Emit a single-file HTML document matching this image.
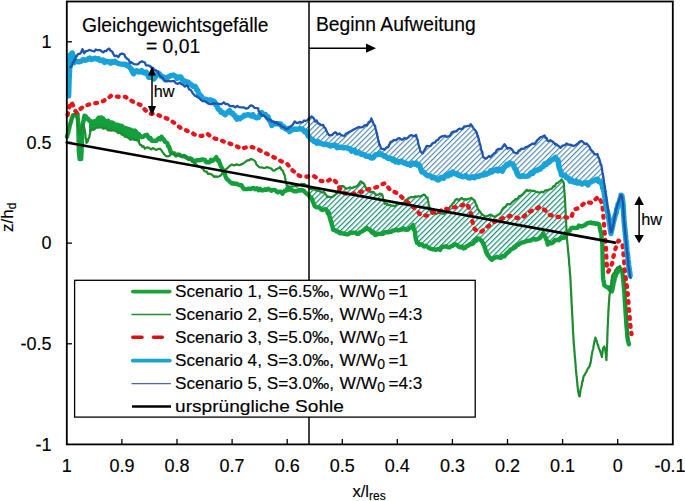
<!DOCTYPE html>
<html><head><meta charset="utf-8">
<style>
html,body{margin:0;padding:0;background:#fff;}
svg{display:block;}
text{font-family:"Liberation Sans",sans-serif;fill:#000;stroke:#000;stroke-width:0.15px;}
</style></head>
<body>
<svg width="685" height="501" viewBox="0 0 685 501">
<defs>
<pattern id="hb" patternUnits="userSpaceOnUse" width="3.7" height="3.7" patternTransform="rotate(45)">
<line x1="0.6" y1="-1" x2="0.6" y2="5" stroke="#4f88a8" stroke-width="1.15"/>
</pattern>
<pattern id="hg" patternUnits="userSpaceOnUse" width="3.7" height="3.7" patternTransform="rotate(45)">
<line x1="0.6" y1="-1" x2="0.6" y2="5" stroke="#1f9078" stroke-width="1.3"/>
</pattern>
</defs>
<rect x="0" y="0" width="685" height="501" fill="#fff"/>

<!-- CURVES -->
<g id="curves" fill="none" stroke-linejoin="round" stroke-linecap="round">
<path d="M299.0,122.8 L302.6,121.6 L307.0,119.4 L311.6,116.9 L315.2,120.5 L319.6,123.5 L323.2,125.7 L326.2,130.0 L329.1,135.1 L332.0,134.4 L335.7,133.0 L339.3,134.4 L343.0,135.9 L347.3,133.0 L351.7,130.8 L355.4,128.6 L360.5,126.4 L364.9,125.7 L368.5,123.5 L371.4,119.1 L373.6,122.7 L376.5,131.5 L378.7,141.7 L380.9,147.6 L384.6,149.7 L388.2,146.8 L390.4,141.7 L394.0,140.3 L397.7,138.8 L401.4,138.8 L404.4,138.7 L408.0,137.2 L411.7,135.0 L416.1,135.8 L418.2,142.3 L420.4,151.1 L422.6,152.6 L424.8,149.6 L427.0,145.3 L430.7,145.3 L435.0,141.6 L439.4,138.7 L443.8,135.8 L448.2,137.2 L451.8,132.8 L456.2,131.4 L459.9,129.2 L464.2,127.0 L467.9,125.5 L470.8,124.1 L473.0,127.0 L475.9,130.7 L478.8,139.4 L481.0,148.2 L483.2,156.2 L486.1,158.4 L490.5,156.2 L494.2,154.0 L497.9,149.4 L501.6,148.0 L504.5,145.0 L507.4,148.0 L511.1,149.4 L514.0,151.6 L517.6,152.3 L521.3,149.4 L525.7,147.2 L530.0,145.0 L534.4,143.6 L537.3,139.2 L540.3,137.0 L544.6,136.3 L547.6,139.9 L550.5,140.7 L553.4,141.4 L556.3,145.0 L559.2,147.2 L562.2,146.5 L566.5,143.6 L570.9,145.0 L575.3,145.0 L579.7,141.4 L584.0,142.1 L587.9,145.3 L590.8,149.7 L593.8,153.4 L597.4,154.8 L599.6,159.2 L601.1,165.0 L602.5,172.3 L604.0,181.1 L603.2,188.4 L601.8,184.0 L599.6,181.8 L596.7,178.2 L593.8,179.6 L589.4,182.6 L588.0,184.0 L582.0,183.0 L576.0,182.0 L570.0,180.0 L565.1,175.7 L561.4,174.2 L559.2,168.4 L557.8,159.6 L555.6,158.2 L551.9,160.4 L547.6,162.6 L543.2,165.5 L538.8,169.1 L534.4,171.3 L530.0,174.2 L525.7,175.7 L520.5,177.2 L517.6,175.7 L515.4,168.4 L513.2,164.7 L509.6,163.3 L505.2,165.5 L502.3,171.3 L499.4,169.9 L496.4,169.9 L492.0,171.4 L487.6,172.8 L483.2,175.0 L478.8,175.8 L474.5,177.5 L470.1,177.2 L465.7,176.5 L461.3,175.8 L456.9,174.3 L452.6,172.8 L448.2,175.0 L443.8,177.2 L439.4,179.4 L435.0,178.0 L430.7,176.5 L426.3,175.0 L421.9,171.0 L419.0,165.8 L414.6,163.5 L408.8,164.5 L404.4,162.8 L400.0,161.5 L397.0,161.4 L392.6,160.0 L388.2,157.8 L383.8,155.6 L379.5,153.4 L376.5,154.9 L372.2,157.8 L367.8,156.3 L363.4,154.1 L359.0,153.4 L354.6,151.2 L350.3,149.7 L345.9,148.3 L341.5,147.6 L337.1,146.8 L332.7,145.4 L328.4,144.6 L324.0,143.9 L319.6,143.2 L315.2,141.7 L310.1,137.3 L305.0,131.0 L302.6,129.6 L299.0,128.5 Z" fill="url(#hb)" stroke="none"/>
<path d="M309.0,187.3 L309.8,187.9 L314.6,189.5 L319.4,191.1 L324.1,191.9 L327.3,196.7 L332.1,197.5 L336.9,194.3 L340.1,185.5 L343.3,186.3 L348.1,188.7 L352.9,187.1 L357.7,185.5 L360.8,181.5 L364.0,183.9 L367.2,190.3 L372.0,191.9 L376.8,194.3 L381.6,193.5 L384.8,203.1 L388.0,205.5 L392.8,206.3 L394.8,205.9 L399.6,204.3 L404.4,201.9 L407.6,198.7 L410.7,197.1 L415.5,196.3 L420.3,196.3 L424.3,194.7 L427.5,197.9 L429.1,205.1 L430.7,211.5 L434.7,213.1 L439.5,213.9 L444.3,214.7 L447.4,211.5 L450.6,205.1 L453.8,201.9 L457.0,199.5 L461.8,198.7 L466.6,199.5 L471.4,198.7 L474.6,199.5 L477.0,206.7 L481.0,213.9 L485.0,215.9 L491.0,214.9 L495.0,215.9 L499.0,214.9 L503.0,208.9 L507.0,204.9 L512.9,201.9 L517.9,197.9 L522.9,193.9 L526.9,190.0 L532.9,191.0 L538.9,193.0 L544.9,191.0 L550.8,189.0 L554.8,186.0 L558.8,181.0 L561.8,180.0 L563.8,183.0 L565.0,200.0 L566.0,220.0 L565.4,235.8 L562.8,238.4 L558.8,239.7 L554.9,241.0 L551.0,242.3 L547.7,243.7 L545.7,237.1 L543.1,233.8 L539.1,238.4 L533.9,239.7 L528.6,241.0 L523.4,242.3 L518.1,245.0 L514.2,247.6 L510.2,250.2 L506.3,254.8 L502.3,256.8 L497.1,257.5 L491.8,258.8 L487.9,256.1 L485.3,248.9 L483.0,243.0 L480.9,239.5 L477.4,238.4 L472.8,243.6 L468.1,245.4 L463.4,247.7 L458.7,246.0 L454.1,244.2 L449.4,247.1 L444.7,246.5 L440.0,248.9 L434.2,248.9 L428.4,247.7 L422.5,245.4 L417.9,243.6 L416.1,240.7 L414.9,232.5 L413.2,225.5 L409.7,227.9 L408.0,228.5 L402.0,229.0 L396.0,230.0 L390.0,231.0 L383.0,233.0 L378.4,234.5 L375.0,234.0 L370.0,230.0 L366.7,227.5 L362.0,232.0 L357.0,234.0 L352.0,233.0 L346.0,233.5 L340.0,233.0 L336.0,232.0 L333.0,229.0 L331.0,222.0 L329.0,214.0 L325.7,210.0 L319.4,207.9 L314.6,206.3 L311.4,198.3 L309.0,195.0 Z" fill="url(#hg)" stroke="none"/>
<path d="M89.0,120.2 L91.5,122.7 L95.0,121.5 L99.7,117.0 L101.7,118.0 L106.7,121.0 L111.4,123.0 L115.2,124.2 L120.7,126.5 L125.4,128.5 L130.4,129.7 L134.8,130.5 L137.5,133.0 L140.0,136.5 L140.0,143.9 L138.0,141.0 L134.0,140.0 L130.4,139.5 L125.0,136.5 L120.0,133.5 L115.2,131.0 L110.0,130.5 L106.0,129.0 L101.7,127.4 L96.0,128.5 L93.0,129.5 L91.5,129.0 L90.0,133.0 L89.0,137.0 Z" fill="#13a03c" stroke="none"/>
<path d="M67.0,136.7 L67.4,135.1 L67.8,133.8 L68.2,133.0 L68.6,130.5 L69.0,129.0 L69.4,127.6 L69.8,125.1 L70.2,124.2 L70.6,122.9 L71.0,121.6 L71.7,118.4 L72.3,117.2 L73.0,115.1 L75.2,115.2 L77.5,113.8 L77.6,114.0 L77.7,117.8 L77.8,119.4 L78.0,120.4 L78.1,121.9 L78.2,122.6 L78.3,123.9 L78.3,126.7 L78.4,127.2 L78.4,129.1 L78.4,130.8 L78.5,131.9 L78.5,134.5 L78.5,136.0 L78.6,138.5 L78.6,139.4 L78.6,141.2 L78.7,142.5 L78.7,144.5 L78.7,145.6 L78.8,146.8 L78.8,150.0 L78.9,151.6 L79.0,152.8 L79.1,154.1 L79.3,154.8 L79.4,156.2 L79.5,158.0 L79.6,159.1 L81.2,159.1 L81.3,156.7 L81.3,156.1 L81.4,153.5 L81.5,153.1 L81.6,151.3 L81.6,147.8 L81.7,146.7 L81.8,146.6 L81.9,144.0 L81.9,143.6 L82.0,140.7 L82.1,138.4 L82.2,138.0 L82.2,136.7 L82.3,134.0 L82.4,132.0 L82.5,131.0 L82.6,130.8 L82.6,128.7 L82.7,125.7 L82.8,124.4 L83.1,122.6 L83.4,120.9 L83.7,121.0 L83.9,118.1 L84.2,117.4 L84.5,115.6 L85.7,116.2 L86.8,118.5 L88.0,118.4 L89.2,120.7 L90.3,120.7 L91.5,122.5 L93.2,121.5 L95.0,121.0 L96.2,121.4 L97.3,119.9 L98.5,117.7 L99.7,117.8 L101.7,117.4 L103.4,118.8 L105.0,120.8 L106.7,121.3 L108.3,120.8 L109.8,123.4 L111.4,122.4 L113.3,123.1 L115.2,124.8 L117.0,124.6 L118.9,125.3 L120.7,125.6 L122.3,126.3 L123.8,128.0 L125.4,127.9 L127.1,129.1 L128.7,129.0 L130.4,129.6 L132.6,131.1 L134.8,130.5 L136.2,131.9 L137.5,133.8 L138.8,134.1 L140.0,135.7 L141.6,137.2 L143.2,136.9 L144.8,135.4 L147.0,134.8 L148.2,137.1 L149.3,138.6 L150.5,138.0 L151.7,140.7 L153.3,140.9 L154.8,140.7 L156.4,140.7 L157.7,139.2 L159.0,138.1 L160.3,139.3 L161.6,136.8 L162.7,139.0 L163.7,139.2 L164.8,141.6 L165.8,142.3 L166.9,142.7 L167.6,143.9 L168.2,146.5 L168.9,146.5 L169.5,148.2 L170.2,150.3 L170.8,152.4 L172.6,153.1 L174.4,153.5 L176.0,155.5 L177.6,154.5 L179.2,154.6 L180.8,155.6 L182.4,156.4 L184.0,156.0 L185.6,156.9 L187.1,157.8 L188.7,158.9 L190.3,158.3 L191.9,159.2 L193.5,160.8 L195.1,161.0 L196.7,160.2 L198.3,160.3 L199.9,160.3 L201.5,159.5 L203.1,159.5 L204.7,159.8 L206.3,162.2 L207.9,162.1 L209.5,162.3 L211.1,159.8 L212.7,160.8 L213.9,159.5 L215.1,159.0 L216.3,157.1 L217.5,160.4 L218.7,160.2 L219.5,162.8 L220.3,164.8 L221.1,166.8 L221.9,168.0 L222.7,169.5 L223.5,171.3 L224.1,173.1 L224.7,173.4 L225.3,175.6 L225.9,177.6 L227.1,179.3 L228.3,180.1 L230.1,182.1 L231.9,183.5 L233.5,183.3 L235.0,183.8 L236.6,183.6 L238.3,184.7 L240.0,185.3 L241.4,185.1 L242.7,187.3 L244.1,189.1 L245.7,189.1 L247.3,189.0 L248.9,188.6 L250.5,189.1 L252.1,188.4 L253.7,187.9 L255.3,189.3 L256.9,188.2 L258.5,190.2 L260.1,188.8 L261.7,190.4 L263.3,190.4 L264.9,189.3 L266.5,189.8 L268.1,188.8 L269.7,189.6 L271.3,190.8 L272.9,189.9 L274.5,189.9 L276.1,191.0 L277.7,192.4 L279.3,191.6 L280.8,191.8 L282.4,193.7 L283.6,192.2 L284.8,190.7 L286.0,190.7 L287.2,188.4 L288.8,189.7 L290.4,189.2 L292.0,190.2 L293.6,191.1 L295.2,191.3 L296.8,191.2 L298.4,190.1 L300.0,190.6 L301.6,190.0 L303.2,190.4 L304.8,192.0 L306.4,193.5 L308.0,194.4 L309.1,195.6 L310.3,197.7 L311.4,197.8 L312.0,199.2 L312.7,201.4 L313.3,202.6 L314.0,204.1 L314.6,206.1 L316.2,207.1 L317.8,207.4 L319.4,207.5 L321.0,209.2 L322.5,210.0 L324.1,209.4 L325.7,209.1 L326.8,210.3 L327.9,213.5 L329.0,213.0 L329.4,216.1 L329.8,217.4 L330.2,218.4 L330.6,221.0 L331.0,220.9 L331.5,222.9 L332.0,225.4 L332.5,226.2 L333.0,229.7 L334.5,229.9 L336.0,231.2 L338.0,231.5 L340.0,233.3 L341.5,233.0 L343.0,233.5 L344.5,233.7 L346.0,234.2 L347.5,234.4 L349.0,233.7 L350.5,232.5 L352.0,232.9 L353.7,232.6 L355.3,232.6 L357.0,233.9 L358.7,233.8 L360.3,232.0 L362.0,231.5 L363.2,230.5 L364.4,230.2 L365.5,228.7 L366.7,227.8 L368.4,229.3 L370.0,229.8 L371.2,231.6 L372.5,232.9 L373.8,232.1 L375.0,235.0 L376.7,234.7 L378.4,233.7 L379.9,233.9 L381.5,233.8 L383.0,233.9 L384.8,232.2 L386.5,232.2 L388.2,232.3 L390.0,231.7 L391.5,231.7 L393.0,230.4 L394.5,230.6 L396.0,229.4 L397.5,230.2 L399.0,230.2 L400.5,229.6 L402.0,229.5 L403.5,228.2 L405.0,229.6 L406.5,229.7 L408.0,229.6 L409.7,228.0 L411.4,227.3 L413.2,225.1 L413.6,228.2 L414.0,229.8 L414.5,230.4 L414.9,231.6 L415.1,234.0 L415.4,235.9 L415.6,238.0 L415.9,239.0 L416.1,239.7 L417.0,242.8 L417.9,242.6 L419.4,244.9 L421.0,244.1 L422.5,245.0 L424.0,246.6 L425.4,245.8 L426.9,246.4 L428.4,247.7 L430.3,248.6 L432.3,249.2 L434.2,249.3 L436.1,249.9 L438.1,248.9 L440.0,249.9 L441.6,247.2 L443.1,246.7 L444.7,246.6 L446.3,246.2 L447.8,247.4 L449.4,247.4 L451.0,246.2 L452.5,245.9 L454.1,244.3 L455.6,244.4 L457.2,245.1 L458.7,246.8 L460.3,247.4 L461.8,246.5 L463.4,248.5 L465.0,248.0 L466.5,246.2 L468.1,245.6 L469.7,244.1 L471.2,244.3 L472.8,243.6 L473.9,242.5 L475.1,240.0 L476.2,240.7 L477.4,238.4 L479.1,238.7 L480.9,240.2 L481.9,241.4 L483.0,243.0 L483.6,244.9 L484.1,245.0 L484.7,247.5 L485.3,248.7 L485.8,251.3 L486.3,252.7 L486.9,252.7 L487.4,254.6 L487.9,255.3 L489.2,256.9 L490.5,258.6 L491.8,259.7 L493.6,258.3 L495.3,257.5 L497.1,256.8 L498.8,257.5 L500.6,258.0 L502.3,256.0 L504.3,256.4 L506.3,253.8 L507.3,253.0 L508.2,251.9 L509.2,251.8 L510.2,249.8 L511.5,249.0 L512.9,248.7 L514.2,246.7 L515.5,247.2 L516.8,245.0 L518.1,245.0 L519.9,243.6 L521.6,242.5 L523.4,242.4 L525.1,241.7 L526.9,241.2 L528.6,240.8 L530.4,240.6 L532.1,239.4 L533.9,239.0 L535.6,239.6 L537.4,239.1 L539.1,238.5 L540.1,238.0 L541.1,236.3 L542.1,235.7 L543.1,233.2 L544.4,236.0 L545.7,237.8 L546.2,239.6 L546.7,240.0 L547.2,241.6 L547.7,244.6 L549.4,242.4 L551.0,243.4 L553.0,242.5 L554.9,240.2 L556.8,239.8 L558.8,240.2 L560.8,238.5 L562.8,237.5 L564.1,237.8 L565.4,235.6 L566.5,235.0 L567.7,232.0 L568.9,231.2 L570.0,230.3 L571.5,228.1 L573.0,227.7 L574.5,228.1 L576.0,227.8 L577.5,227.7 L579.0,225.6 L580.5,226.2 L582.0,226.5 L583.5,225.4 L585.0,225.3 L586.5,223.7 L588.0,223.0 L589.5,222.8 L591.0,222.4 L592.5,223.3 L594.0,222.9 L595.7,223.7 L597.3,223.5 L599.0,224.2 L599.5,226.0 L600.0,229.1 L600.5,231.2 L601.0,232.8 L601.2,232.7 L601.4,234.3 L601.6,238.0 L601.7,238.6 L601.9,241.0 L602.1,241.7 L602.3,243.7 L602.3,245.3 L602.4,246.7 L602.4,248.5 L602.4,248.8 L602.5,251.8 L602.5,253.6 L602.5,253.7 L602.6,255.8 L602.6,257.9 L602.6,258.7 L602.6,259.7 L602.7,261.2 L602.7,263.4 L602.7,263.9 L602.8,267.3 L602.8,268.6 L602.8,269.9 L602.9,271.8 L602.9,272.8 L602.9,273.8 L603.0,275.7 L603.0,277.0 L603.3,279.6 L603.5,280.8 L603.8,281.1 L604.0,284.1 L604.3,285.2 L605.6,286.2 L606.9,287.1 L608.2,287.1 L609.5,289.4 L610.7,290.6 L612.0,291.4 L612.3,290.0 L612.6,288.4 L613.0,286.1 L613.3,285.2 L613.7,282.3 L614.1,281.4 L614.5,280.2 L614.8,277.7 L615.2,277.0 L615.6,276.1 L616.0,274.6 L616.8,272.4 L617.5,272.7 L618.3,270.8 L619.0,268.7 L619.8,268.2 L620.7,269.3 L621.5,270.5 L622.4,271.5 L622.6,274.4 L622.7,275.3 L622.9,277.0 L623.0,278.8 L623.2,280.9 L623.4,280.4 L623.5,283.3 L623.7,285.2 L623.8,285.7 L623.9,287.5 L624.0,288.2 L624.1,290.1 L624.2,292.0 L624.4,292.9 L624.5,294.7 L624.6,297.7 L624.7,298.4 L624.8,299.8 L624.9,302.3 L625.0,302.9 L625.1,305.5 L625.2,306.3 L625.3,308.3 L625.4,308.3 L625.5,311.0 L625.6,313.0 L625.7,313.0 L625.8,316.5 L625.9,316.5 L626.0,318.7 L626.1,319.7 L626.2,322.0 L626.3,323.8 L626.4,324.2 L626.6,327.7 L626.7,328.0 L626.8,329.8 L627.0,331.5 L627.1,332.5 L627.2,333.9 L627.3,336.3 L627.5,337.6 L627.6,338.5 L628.0,341.2 L628.5,342.1 L628.9,344.3" stroke="#13a03c" stroke-width="4.4"/>
<path d="M67.6,132.0 L68.1,130.3 L68.6,129.1 L69.0,127.5 L69.5,124.9 L70.0,123.0 L70.5,122.2 L71.0,120.5 L71.5,120.1 L72.0,118.4 L73.0,116.2 L74.0,114.1 L75.5,113.3 L76.0,114.0 L76.5,116.2 L77.0,117.3 L77.2,120.5 L77.3,120.5 L77.5,123.6 L77.7,123.8 L77.8,126.7 L78.0,127.7 L78.5,129.6 L79.0,132.2 L79.5,132.3 L80.0,134.1 L80.3,134.3 L80.7,132.0 L81.0,129.7 L81.3,130.0 L81.7,128.4 L82.0,125.2 L83.5,123.8 L83.8,124.9 L84.1,126.8 L84.4,129.0 L84.7,129.7 L85.0,132.4 L85.2,132.7 L85.4,134.5 L85.6,137.3 L85.9,138.1 L86.1,139.7 L86.3,141.6 L86.5,143.0 L88.0,140.8 L88.4,138.5 L88.8,138.3 L89.2,137.1 L89.6,135.6 L90.0,133.3 L90.8,130.7 L91.5,128.7 L93.0,129.9 L94.5,129.3 L96.0,127.7 L97.9,127.6 L99.8,127.5 L101.7,127.4 L103.1,128.6 L104.6,128.5 L106.0,128.1 L108.0,130.4 L110.0,130.4 L111.7,130.7 L113.5,130.3 L115.2,130.9 L116.8,131.6 L118.4,133.2 L120.0,132.7 L121.7,134.6 L123.3,134.9 L125.0,136.9 L126.3,136.3 L127.7,137.6 L129.1,138.4 L130.4,139.8 L132.2,138.9 L134.0,139.9 L136.0,139.9 L138.0,140.6 L139.0,142.4 L140.0,144.8 L141.2,144.9 L142.4,146.8 L143.6,146.2 L144.8,148.7 L146.4,147.6 L148.0,147.3 L149.6,148.4 L151.2,149.3 L152.8,148.0 L154.4,149.0 L156.3,149.9 L158.1,149.0 L160.0,148.7 L161.2,150.0 L162.4,151.9 L164.2,154.2 L166.0,156.1 L167.8,156.4 L169.6,155.7 L171.4,153.9 L173.2,153.6 L174.8,154.9 L176.4,155.4 L178.0,155.4 L179.5,154.9 L181.0,155.8 L182.5,156.0 L184.0,156.6 L185.6,156.6 L187.1,158.8 L188.7,159.5 L189.9,158.9 L191.1,160.1 L192.3,162.1 L193.5,161.9 L194.7,164.1 L195.9,164.1 L197.1,165.4 L198.3,166.3 L199.9,166.5 L201.5,167.9 L203.1,169.0 L204.3,170.8 L205.5,171.7 L206.7,171.5 L207.9,173.9 L209.5,173.7 L211.1,174.2 L212.7,175.4 L214.3,176.9 L215.9,176.4 L217.5,176.9 L219.3,176.3 L221.1,175.2 L222.0,173.6 L222.9,171.7 L223.8,170.9 L224.7,170.3 L226.5,168.9 L228.3,167.3 L230.1,165.6 L231.9,164.4 L233.5,165.4 L235.0,165.2 L236.6,164.3 L238.3,165.1 L240.0,164.9 L242.6,163.9 L244.1,162.9 L245.7,161.7 L247.3,160.4 L248.9,160.4 L250.5,159.1 L252.5,159.3 L254.5,160.6 L255.5,161.9 L256.5,164.6 L257.5,165.5 L258.5,166.6 L260.1,167.5 L261.7,167.3 L263.3,167.9 L264.9,168.0 L266.5,167.1 L268.1,167.3 L269.7,168.2 L271.3,168.5 L272.9,170.5 L274.5,170.6 L276.1,169.3 L277.7,168.5 L278.9,168.1 L280.0,167.0 L280.8,168.2 L281.6,170.0 L282.4,170.2 L283.0,171.0 L283.6,173.3 L284.2,174.6 L284.8,175.5 L285.1,178.0 L285.3,178.9 L285.6,180.3 L286.1,182.3 L286.7,185.4 L287.2,185.4 L288.8,186.5 L290.4,186.8 L292.0,186.3 L293.6,186.5 L295.2,185.8 L296.8,186.7 L298.4,185.3 L300.0,185.2 L301.6,183.9 L303.2,184.2 L304.8,184.2 L306.1,185.7 L307.3,185.4 L308.6,186.8 L309.8,188.6 L311.4,189.1 L313.0,188.4 L314.6,189.6 L316.2,190.6 L317.8,190.4 L319.4,191.4 L321.0,191.7 L322.5,192.6 L324.1,192.0 L325.2,193.9 L326.2,194.8 L327.3,197.2 L328.9,196.6 L330.5,197.2 L332.1,197.2 L333.7,196.0 L335.3,194.6 L336.9,193.8 L337.4,192.9 L338.0,190.9 L338.5,189.0 L339.0,189.0 L339.6,186.5 L340.1,186.4 L341.7,186.1 L343.3,186.1 L344.9,187.8 L346.5,188.7 L348.1,188.3 L349.7,187.4 L351.3,187.9 L352.9,187.8 L354.5,186.8 L356.1,186.6 L357.7,185.3 L358.7,184.4 L359.8,182.4 L360.8,181.3 L362.4,182.5 L364.0,183.7 L364.8,185.3 L365.6,187.7 L366.4,188.0 L367.2,189.7 L368.8,190.3 L370.4,192.3 L372.0,191.9 L373.6,191.8 L375.2,194.2 L376.8,195.0 L378.4,194.7 L380.0,193.5 L381.6,194.0 L382.1,194.7 L382.7,196.0 L383.2,199.0 L383.7,200.6 L384.3,200.9 L384.8,203.9 L386.4,203.3 L388.0,205.1 L389.6,204.8 L391.2,205.4 L392.8,205.6 L394.8,206.3 L396.4,205.0 L398.0,204.2 L399.6,203.7 L401.2,203.1 L402.8,203.4 L404.4,202.1 L405.5,200.0 L406.5,200.1 L407.6,198.8 L409.1,197.8 L410.7,197.2 L412.3,197.1 L413.9,197.2 L415.5,196.3 L417.1,196.6 L418.7,196.2 L420.3,196.6 L422.3,195.3 L424.3,194.5 L425.4,195.8 L426.4,197.3 L427.5,197.5 L427.9,200.5 L428.3,201.5 L428.7,204.0 L429.1,205.5 L429.5,207.6 L429.9,208.7 L430.3,209.8 L430.7,211.3 L432.7,212.5 L434.7,213.6 L436.3,214.0 L437.9,212.9 L439.5,213.0 L441.1,213.4 L442.7,213.6 L444.3,213.8 L445.9,212.1 L447.4,211.0 L448.2,209.1 L449.0,208.7 L449.8,206.9 L450.6,206.0 L451.7,205.0 L452.7,203.5 L453.8,202.8 L455.4,199.8 L457.0,199.0 L458.6,200.1 L460.2,198.9 L461.8,198.1 L463.4,199.5 L465.0,199.1 L466.6,199.6 L468.2,198.9 L469.8,198.5 L471.4,197.9 L473.0,199.3 L474.6,200.4 L475.1,201.9 L475.6,202.9 L476.0,204.7 L476.5,205.0 L477.0,206.3 L477.8,209.0 L478.6,209.8 L479.4,211.4 L480.2,211.5 L481.0,213.4 L483.0,214.9 L485.0,216.4 L486.5,216.3 L488.0,215.9 L489.5,214.8 L491.0,214.7 L493.0,216.1 L495.0,216.9 L497.0,215.4 L499.0,214.3 L500.0,213.6 L501.0,212.0 L502.0,210.1 L503.0,208.4 L504.3,207.3 L505.7,206.5 L507.0,204.2 L508.5,204.2 L509.9,204.3 L511.4,203.1 L512.9,201.4 L514.1,200.7 L515.4,199.1 L516.6,199.4 L517.9,198.2 L519.1,196.2 L520.4,196.0 L521.6,195.1 L522.9,194.1 L524.2,192.4 L525.6,190.9 L526.9,189.7 L528.4,191.2 L529.9,190.2 L531.4,190.8 L532.9,190.9 L534.4,190.8 L535.9,191.8 L537.4,191.9 L538.9,192.6 L540.4,192.2 L541.9,191.7 L543.4,192.4 L544.9,190.6 L546.4,190.2 L547.8,190.3 L549.3,189.3 L550.8,189.0 L552.1,188.3 L553.5,186.1 L554.8,186.3 L555.8,184.0 L556.8,183.0 L557.8,182.9 L558.8,182.0 L560.3,180.8 L561.8,179.3 L562.8,181.4 L563.8,182.6 L563.9,185.2 L564.0,185.6 L564.1,187.0 L564.2,189.5 L564.3,191.0 L564.5,192.5 L564.6,193.8 L564.7,196.3 L564.8,196.8 L564.9,199.3 L565.0,199.8 L565.1,201.5 L565.2,202.8 L565.2,205.0 L565.3,206.7 L565.4,207.2 L565.5,209.3 L565.5,211.2 L565.6,212.3 L565.7,214.2 L565.8,215.6 L565.8,217.4 L565.9,218.2 L566.0,219.6 L566.1,220.6 L566.2,223.9 L566.2,225.2 L566.3,225.9 L566.4,228.6 L566.5,230.0 L566.5,230.1 L566.6,233.0 L566.7,233.7 L566.8,235.0 L566.8,236.4 L566.9,238.3 L567.0,239.1 L567.2,240.8 L567.3,242.6 L567.5,244.6 L567.7,246.0 L567.8,247.6 L568.0,250.7 L568.2,251.4 L568.3,253.3 L568.5,255.2 L568.7,257.5 L568.8,257.6 L569.0,259.5 L569.1,262.3 L569.2,263.9 L569.3,265.5 L569.5,266.2 L569.6,267.4 L569.7,268.6 L569.8,271.6 L569.9,272.8 L570.0,273.9 L570.2,276.0 L570.3,276.4 L570.4,278.5 L570.5,280.8 L570.6,280.7 L570.6,283.2 L570.7,283.9 L570.8,286.7 L570.9,288.2 L571.0,289.3 L571.0,290.4 L571.1,291.0 L571.2,293.5 L571.2,294.7 L571.3,296.3 L571.4,297.2 L571.5,300.3 L571.5,301.0 L571.6,302.6 L571.7,304.7 L571.8,306.3 L571.9,307.1 L571.9,308.6 L572.0,310.7 L572.1,311.2 L572.1,313.8 L572.2,313.5 L572.3,316.6 L572.4,317.6 L572.5,319.2 L572.5,321.5 L572.6,321.4 L572.7,323.3 L572.8,325.6 L572.8,327.0 L572.9,328.0 L573.0,330.1 L573.0,331.4 L573.1,333.2 L573.2,334.3 L573.3,335.2 L573.4,336.6 L573.4,337.7 L573.5,339.2 L573.6,340.6 L573.8,344.1 L573.9,343.9 L574.0,346.4 L574.2,347.0 L574.3,350.2 L574.4,350.9 L574.5,351.8 L574.7,354.6 L574.8,356.2 L574.9,358.0 L575.1,358.1 L575.2,360.0 L575.3,362.1 L575.5,362.8 L575.6,365.0 L575.7,366.8 L575.8,368.4 L576.0,370.1 L576.1,371.5 L576.2,372.2 L576.4,374.7 L576.5,375.6 L576.6,376.5 L576.8,377.7 L577.0,380.4 L577.1,381.4 L577.2,382.4 L577.4,384.7 L577.5,386.0 L577.7,387.4 L577.9,389.3 L578.0,390.8 L578.4,392.3 L578.8,394.7 L579.1,396.0 L579.5,396.3 L579.8,395.9 L580.0,393.3 L580.2,393.1 L580.5,389.8 L580.8,388.8 L581.0,388.6 L581.4,386.5 L581.8,385.1 L582.1,382.6 L582.5,380.9 L582.9,381.1 L583.2,377.8 L583.6,376.6 L584.0,375.6 L584.8,374.9 L585.5,373.1 L586.2,372.3 L587.0,370.4 L588.0,368.2 L589.0,367.6 L590.0,364.9 L590.3,362.9 L590.5,363.2 L590.8,361.6 L591.1,359.6 L591.4,357.8 L591.6,355.7 L591.9,354.2 L592.2,352.4 L592.5,351.0 L592.7,350.3 L593.0,349.6 L593.3,348.2 L593.6,345.8 L593.9,344.6 L594.1,342.7 L594.4,341.9 L594.7,340.2 L595.0,339.3 L595.3,337.5 L595.8,338.6 L596.2,340.0 L596.6,340.6 L597.1,342.7 L597.5,344.1 L598.0,345.0 L598.4,346.6 L598.9,348.5 L599.6,349.7 L600.4,352.2 L601.1,353.7 L601.9,357.0 L602.1,354.9 L602.4,353.0 L602.6,351.4 L602.9,349.8 L603.1,347.9 L603.4,347.9 L604.3,346.5 L604.6,347.6 L604.9,349.2 L605.2,349.7 L605.5,352.1 L605.7,353.1 L605.9,355.1 L606.0,357.3 L606.2,358.2 L606.4,360.1 L606.5,359.5 L606.5,357.4 L606.6,356.6 L606.7,353.6 L606.7,351.9 L606.8,352.0 L606.9,349.7 L607.0,348.3 L607.0,346.5 L607.1,344.1 L607.2,344.1 L607.2,341.6 L607.3,340.8 L607.3,337.8 L607.4,336.5 L607.4,335.5 L607.5,333.4 L607.5,333.1 L607.6,330.4 L607.6,328.5 L607.7,327.2 L607.8,325.9 L607.8,325.7 L607.9,323.9 L608.0,321.8 L608.0,319.7 L608.1,317.3 L608.2,317.2 L608.3,314.1 L608.3,312.6 L608.4,311.4 L608.5,310.6 L608.6,307.6 L608.7,305.7 L608.8,305.7 L608.9,302.3 L609.1,302.1 L609.2,299.2 L609.3,297.9 L609.4,296.1 L609.5,294.9 L609.7,294.3 L609.9,292.7 L610.1,290.5 L610.3,288.1 L610.5,286.8 L610.8,285.5 L611.0,285.0 L611.2,283.8 L611.4,280.5 L611.6,279.6 L611.8,279.3 L612.0,276.2 L612.8,274.5 L613.6,273.3 L614.4,272.9 L615.2,270.1 L616.0,269.4 L617.3,267.4 L618.5,267.6 L619.8,265.8 L620.7,268.0 L621.5,269.6 L622.4,271.2 L622.7,271.9 L623.1,274.6 L623.4,275.0 L623.7,277.7 L624.1,279.2 L624.4,281.0 L624.5,280.8 L624.6,282.7 L624.7,285.1 L624.8,287.1 L625.0,287.4 L625.1,290.0 L625.2,291.0 L625.3,291.6 L625.4,293.3 L625.5,294.8 L625.6,296.8 L625.7,299.7 L625.8,300.8 L625.9,302.8 L626.1,304.4 L626.2,305.0 L626.3,307.1 L626.4,308.6 L626.5,310.3 L626.6,310.7 L626.7,313.8 L626.8,313.9 L626.9,316.1 L627.0,318.1 L627.1,319.8 L627.2,321.6 L627.3,322.1 L627.4,323.7 L627.4,326.1 L627.5,326.3 L627.6,329.5 L627.7,330.0 L627.8,331.7 L627.9,333.1 L628.0,335.5 L628.1,336.0 L628.2,337.5 L628.3,339.8" stroke="#1e8c2e" stroke-width="2.2"/>
<path d="M67.6,115.1 L67.9,113.5 L68.3,112.2 L68.6,110.6 L69.0,109.2 L69.3,107.3 L69.8,105.9 L70.2,104.4 L70.6,103.0 L71.1,101.8 L72.0,103.3 L72.9,105.2 L73.5,106.6 L74.0,108.2 L74.6,109.9 L75.8,111.5 L76.9,112.9 L77.9,111.4 L78.9,110.4 L79.9,109.1 L81.1,108.5 L82.2,107.5 L83.4,106.6 L84.9,106.0 L86.5,105.3 L88.0,104.8 L89.6,104.3 L91.1,103.7 L92.7,103.6 L94.3,103.2 L95.8,103.2 L97.4,102.9 L98.9,102.5 L100.5,102.0 L102.0,101.7 L103.6,100.8 L105.1,99.9 L106.7,99.5 L107.9,98.5 L109.1,97.6 L110.2,96.5 L111.4,95.5 L113.0,95.9 L114.5,95.9 L116.1,96.5 L117.6,96.7 L119.2,96.8 L120.7,97.2 L122.3,97.1 L123.8,96.8 L125.4,96.8 L126.9,97.9 L128.5,98.8 L130.0,99.7 L131.6,100.9 L133.2,101.8 L134.8,102.8 L136.7,103.4 L138.5,104.2 L140.2,104.8 L141.9,105.9 L142.9,107.3 L143.8,108.3 L144.8,109.7 L146.0,110.8 L147.2,111.4 L148.4,112.4 L149.6,113.8 L151.2,113.8 L152.8,113.7 L154.4,113.4 L156.0,114.1 L157.5,114.9 L159.1,115.4 L160.7,116.2 L162.3,116.7 L163.9,117.8 L165.5,118.0 L167.1,118.7 L168.7,118.9 L170.3,120.4 L171.9,121.3 L173.5,122.4 L174.7,123.2 L175.9,124.4 L177.1,125.3 L178.3,126.3 L179.9,127.3 L181.5,128.5 L183.1,129.4 L184.7,129.9 L186.3,130.4 L187.9,131.2 L189.5,131.7 L191.1,132.6 L192.7,133.3 L194.3,134.4 L195.8,135.1 L197.4,135.9 L199.0,135.7 L200.6,135.9 L202.2,135.8 L203.8,134.9 L205.4,134.1 L207.0,133.7 L208.2,134.3 L209.4,135.4 L210.6,136.4 L211.8,137.5 L213.4,137.8 L215.0,138.6 L216.6,139.0 L218.2,139.8 L219.8,139.9 L221.4,140.6 L223.0,141.2 L224.6,142.0 L226.2,142.3 L229.0,143.3 L230.4,143.9 L231.9,144.2 L233.3,144.5 L234.8,145.2 L236.2,145.9 L237.8,146.9 L239.4,147.7 L241.0,149.0 L242.6,148.6 L244.2,147.8 L245.7,147.5 L247.3,146.9 L248.9,146.4 L250.5,146.8 L252.1,147.2 L253.7,147.6 L255.3,147.9 L256.9,148.8 L258.5,149.5 L260.1,150.6 L261.7,151.3 L263.3,151.9 L264.9,153.0 L266.5,153.5 L268.1,154.5 L269.7,155.3 L271.3,156.0 L272.9,156.8 L274.5,157.7 L276.1,158.3 L277.6,159.5 L279.2,159.9 L280.8,161.1 L282.4,161.6 L284.0,162.4 L285.6,163.2 L287.2,163.9 L288.3,165.2 L289.3,166.7 L290.4,168.1 L291.6,169.5 L292.8,170.7 L294.0,171.5 L295.2,172.9 L296.8,173.8 L298.4,175.2 L300.0,176.0 L301.6,176.5 L303.2,176.5 L304.8,176.5 L306.4,176.7 L308.2,176.5 L310.1,176.6 L311.9,176.0 L313.8,176.0 L315.1,176.9 L316.4,177.8 L317.6,179.0 L318.9,179.6 L320.2,180.8 L321.8,181.0 L323.4,181.3 L324.9,181.3 L326.5,181.7 L327.9,180.7 L329.3,180.0 L330.7,179.2 L332.1,178.6 L333.2,179.7 L334.3,180.4 L335.5,181.5 L336.6,182.8 L337.7,184.1 L338.5,185.9 L339.3,187.8 L340.5,189.5 L341.7,190.6 L342.9,191.9 L344.1,193.3 L346.0,193.5 L347.8,194.1 L349.7,194.1 L351.3,194.0 L352.9,193.7 L354.5,193.3 L356.1,192.9 L357.9,192.3 L359.6,192.0 L361.4,191.7 L363.2,191.2 L364.6,190.5 L366.1,190.3 L367.5,189.5 L369.0,189.1 L370.4,188.9 L372.0,188.3 L373.6,187.8 L375.2,187.6 L376.8,187.1 L378.4,186.1 L380.0,185.3 L381.6,184.6 L383.2,183.8 L384.8,183.3 L385.8,184.2 L386.8,185.8 L387.8,187.1 L388.8,188.1 L389.8,189.7 L390.8,190.8 L392.4,191.3 L394.0,191.8 L395.6,192.5 L397.2,193.3 L398.4,194.2 L399.6,195.1 L400.8,196.2 L402.0,197.4 L403.2,198.3 L404.4,199.5 L405.6,200.3 L406.8,201.7 L407.9,202.3 L409.1,203.3 L410.5,204.7 L411.9,205.8 L413.3,207.3 L414.7,208.3 L415.8,209.5 L416.8,210.9 L417.9,211.8 L419.0,213.2 L420.0,214.4 L421.1,215.5 L422.9,215.7 L424.7,215.3 L426.5,215.7 L428.3,215.3 L429.9,214.6 L431.5,213.2 L433.1,212.1 L434.7,212.6 L436.3,213.0 L437.9,213.0 L439.3,211.9 L440.7,210.8 L442.1,209.4 L443.5,208.3 L445.1,208.3 L446.6,208.8 L448.2,209.2 L450.1,208.5 L451.9,207.9 L453.8,207.3 L455.4,207.2 L457.0,206.7 L458.6,206.5 L460.2,206.0 L461.8,205.1 L463.4,204.9 L465.0,204.3 L466.6,203.7 L467.4,205.1 L468.2,206.5 L469.0,207.9 L469.8,209.3 L470.6,210.7 L470.8,212.4 L471.0,214.1 L471.2,216.2 L471.4,217.9 L471.9,219.3 L472.3,221.1 L472.8,222.7 L473.2,224.2 L473.7,226.0 L474.1,227.6 L474.6,228.9 L476.2,230.4 L477.8,231.4 L479.4,231.7 L481.0,231.9 L482.2,231.1 L483.4,229.9 L484.6,229.1 L485.8,227.8 L487.0,227.0 L488.5,226.1 L490.0,225.0 L491.5,223.8 L493.0,222.7 L494.5,221.9 L496.0,220.9 L497.5,220.1 L499.0,219.0 L501.0,218.8 L502.9,218.2 L504.9,217.9 L506.4,217.4 L507.9,217.0 L509.4,216.2 L510.9,215.8 L512.4,216.2 L513.9,216.8 L515.4,217.3 L516.9,218.1 L518.6,217.8 L520.2,218.1 L521.9,217.8 L523.1,216.8 L524.3,216.1 L525.5,214.7 L526.7,213.7 L527.9,212.7 L529.4,211.9 L530.9,211.3 L532.4,210.5 L533.9,209.7 L535.4,208.9 L536.9,208.5 L538.4,207.4 L539.9,206.8 L541.6,207.9 L543.2,209.1 L544.9,210.0 L546.1,211.3 L547.4,212.5 L548.6,213.8 L549.9,215.1 L551.4,215.2 L552.8,215.7 L554.3,216.5 L555.8,216.9 L557.3,216.9 L558.9,217.0 L560.5,216.7 L562.0,217.0 L563.5,217.1 L565.0,217.4 L566.5,217.5 L568.0,217.8 L569.5,217.9 L571.0,217.9 L571.6,216.5 L572.2,214.6 L572.8,213.2 L573.4,211.3 L574.0,210.0 L575.5,209.0 L577.0,208.6 L578.5,207.9 L580.0,206.8 L581.2,206.1 L582.4,204.8 L583.6,203.8 L584.8,202.7 L586.0,201.9 L587.5,202.0 L589.0,202.5 L590.5,202.7 L592.0,202.9 L593.2,201.8 L594.4,200.4 L595.6,199.2 L596.8,198.0 L598.0,196.7 L599.0,198.6 L600.0,199.7 L601.0,201.2 L602.0,203.0 L602.2,204.6 L602.3,205.9 L602.5,207.4 L602.7,208.7 L602.8,210.2 L603.0,211.9 L603.1,213.3 L603.2,214.7 L603.4,216.6 L603.5,217.7 L603.6,219.3 L603.8,221.0 L603.9,222.5 L604.0,223.7 L604.1,225.7 L604.3,227.3 L604.4,229.1 L604.6,230.9 L604.7,232.5 L604.9,234.1 L605.0,235.9 L605.1,237.4 L605.2,238.9 L605.3,240.6 L605.4,242.1 L605.6,243.5 L605.7,244.9 L605.8,246.8 L605.9,248.2 L606.0,249.8 L606.1,251.2 L606.2,252.9 L606.2,254.3 L606.3,256.0 L606.4,257.4 L606.5,258.9 L606.6,260.6 L606.7,261.9 L606.7,263.5 L606.8,265.1 L606.9,266.6 L607.3,268.4 L607.8,270.2 L608.2,271.7 L609.0,270.2 L609.7,268.4 L610.5,266.9 L611.2,265.4 L612.0,263.9 L612.3,262.5 L612.6,260.4 L613.0,259.0 L613.3,257.6 L613.6,255.8 L614.0,254.4 L614.3,252.4 L614.6,251.1 L615.2,249.5 L615.7,248.1 L616.3,246.3 L616.8,245.0 L617.4,243.7 L617.9,242.2 L618.5,240.6 L619.8,241.4 L621.1,242.1 L622.4,243.3 L622.6,244.8 L622.7,246.5 L622.9,248.1 L623.0,249.6 L623.2,251.4 L623.4,252.7 L623.5,254.7 L623.7,255.9 L623.8,257.9 L624.0,259.3 L624.1,260.8 L624.2,262.6 L624.4,263.9 L624.5,265.5 L624.6,266.8 L624.7,268.7 L624.9,270.2 L625.0,271.6 L625.2,273.2 L625.4,275.1 L625.6,277.1 L625.9,278.8 L626.1,280.3 L626.3,281.8 L626.5,283.9 L626.7,285.3 L627.0,287.3 L627.2,288.9 L627.4,290.9 L627.6,292.2 L627.7,294.1 L627.9,295.6 L628.0,296.8 L628.1,298.7 L628.2,300.1 L628.4,301.9 L628.5,303.6 L628.6,305.0 L628.8,306.4 L628.9,308.1 L629.0,309.4 L629.2,311.1 L629.3,312.5 L629.4,314.4 L629.5,315.6 L629.7,317.4 L629.8,318.8 L629.9,320.5 L630.1,321.8 L630.2,323.4 L630.4,325.4 L630.6,327.2 L630.9,329.0 L631.1,330.6 L631.3,332.5 L631.5,334.0" stroke="#e8141c" stroke-width="4.3" stroke-dasharray="1.8,6.2" stroke-linecap="round"/>
<path d="M68.6,95.9 L68.7,93.3 L68.7,93.1 L68.8,91.4 L68.8,90.4 L68.9,87.2 L68.9,85.6 L69.0,85.1 L69.0,83.3 L69.1,80.8 L69.1,80.1 L69.2,77.8 L69.3,77.2 L69.3,74.1 L69.4,72.8 L69.5,73.0 L69.6,70.2 L69.7,68.4 L69.7,68.2 L69.8,66.3 L69.9,63.6 L70.0,63.0 L70.1,61.8 L70.1,59.0 L70.2,58.6 L70.3,55.8 L70.4,54.8 L72.2,53.0 L72.8,55.1 L73.4,58.7 L73.7,59.4 L74.0,62.8 L75.7,61.3 L77.3,61.5 L79.0,61.9 L81.2,61.1 L83.4,59.5 L85.2,60.2 L87.0,59.8 L88.5,58.5 L90.0,58.0 L91.5,59.6 L93.2,58.9 L95.0,58.3 L96.8,59.0 L98.5,58.6 L100.0,60.6 L101.5,60.5 L103.0,60.1 L104.4,62.4 L105.9,61.0 L107.5,61.9 L109.0,61.7 L110.5,63.2 L112.0,61.5 L113.5,62.4 L115.0,61.2 L116.5,62.6 L118.0,63.4 L120.7,64.1 L122.3,64.1 L123.8,64.3 L125.4,64.3 L126.7,65.5 L128.0,65.0 L130.0,67.9 L131.2,68.9 L132.4,72.0 L133.6,73.8 L135.3,71.1 L137.0,70.6 L138.5,72.0 L140.0,71.8 L141.5,70.6 L143.0,72.4 L144.5,73.1 L146.0,72.0 L146.9,73.2 L147.8,75.0 L148.7,77.2 L149.6,76.9 L151.1,77.4 L152.5,77.6 L154.0,79.0 L155.0,77.5 L156.0,75.8 L157.0,74.9 L158.0,72.9 L159.8,74.4 L161.6,76.9 L162.8,76.9 L163.9,77.2 L165.1,79.7 L166.7,77.8 L168.4,77.0 L170.0,75.9 L171.8,75.5 L173.5,75.0 L175.3,76.0 L177.1,78.4 L178.9,76.9 L180.7,76.9 L181.9,78.9 L183.1,80.9 L184.3,80.6 L186.1,82.3 L187.9,82.0 L189.7,83.6 L191.5,84.9 L193.3,86.4 L195.1,86.5 L195.8,87.4 L196.5,89.6 L197.3,89.9 L198.0,91.4 L198.7,94.2 L199.6,94.4 L200.5,96.2 L201.4,96.3 L202.3,98.9 L204.1,99.1 L205.9,99.1 L207.5,100.9 L209.1,100.0 L210.7,99.9 L212.1,100.6 L213.6,101.1 L215.0,102.3 L215.7,104.8 L216.4,104.9 L217.2,106.5 L217.9,108.4 L219.0,109.7 L220.1,110.4 L221.2,112.4 L222.3,112.2 L223.8,113.6 L225.2,114.8 L226.7,112.9 L228.1,111.9 L229.6,110.6 L231.1,113.1 L232.5,113.0 L234.0,115.4 L235.0,115.6 L235.9,117.8 L236.9,119.1 L238.4,117.8 L239.8,118.7 L241.3,117.6 L242.8,116.9 L244.2,115.2 L245.7,115.6 L247.1,114.7 L248.6,114.7 L250.0,115.3 L251.5,115.9 L252.9,114.7 L254.4,116.9 L256.6,117.9 L258.8,117.3 L259.8,114.8 L260.7,115.1 L261.7,112.6 L263.5,114.4 L265.4,114.5 L266.3,115.8 L267.2,117.5 L268.1,116.9 L269.0,120.1 L269.7,120.4 L270.4,121.5 L271.2,123.5 L271.9,125.5 L273.4,123.4 L274.8,123.7 L276.3,123.8 L277.8,123.6 L279.2,124.1 L280.7,124.0 L282.2,126.9 L283.6,126.4 L285.1,128.6 L286.6,129.3 L288.0,128.5 L289.5,131.6 L290.9,129.0 L292.4,130.1 L293.8,129.2 L296.0,129.2 L298.2,129.1 L299.7,128.4 L301.1,129.0 L302.6,129.2 L305.0,132.0 L306.0,131.1 L307.0,132.6 L308.1,135.9 L309.1,136.8 L310.1,137.8 L311.4,139.5 L312.6,139.6 L313.9,141.4 L315.2,141.6 L316.7,143.2 L318.1,141.7 L319.6,143.1 L321.8,143.7 L324.0,144.6 L326.2,144.1 L328.4,145.0 L330.5,146.1 L332.7,145.2 L334.2,145.1 L335.6,145.2 L337.1,147.7 L339.3,147.1 L341.5,147.3 L343.7,148.0 L345.9,147.4 L347.4,148.1 L348.8,148.6 L350.3,149.1 L351.7,151.1 L353.2,150.1 L354.6,150.2 L356.1,152.8 L357.5,152.8 L359.0,152.3 L361.2,154.2 L363.4,154.5 L364.9,155.2 L366.3,156.2 L367.8,156.1 L369.3,156.1 L370.7,157.9 L372.2,158.1 L373.6,157.3 L375.1,155.1 L376.5,154.6 L378.0,154.6 L379.5,153.1 L380.9,154.4 L382.4,154.8 L383.8,156.2 L385.3,156.0 L386.7,157.1 L388.2,158.6 L389.7,158.1 L391.1,158.5 L392.6,160.3 L394.1,159.6 L395.5,161.8 L397.0,160.9 L398.5,162.4 L400.0,161.6 L401.5,161.1 L402.9,162.4 L404.4,163.2 L405.9,163.3 L407.3,164.3 L408.8,164.2 L410.7,165.3 L412.7,163.1 L414.6,164.2 L416.1,163.1 L417.5,165.1 L419.0,164.8 L420.0,166.6 L420.9,169.5 L421.9,172.0 L423.4,171.9 L424.8,173.4 L426.3,174.9 L427.8,175.8 L429.2,175.6 L430.7,176.1 L432.1,177.8 L433.6,177.6 L435.0,177.6 L436.5,179.2 L437.9,180.1 L439.4,179.2 L440.9,177.5 L442.3,177.5 L443.8,178.2 L445.3,175.7 L446.7,175.0 L448.2,175.7 L449.7,173.3 L451.1,174.4 L452.6,172.1 L454.0,173.0 L455.5,174.0 L456.9,173.4 L458.4,175.5 L459.8,175.2 L461.3,176.4 L463.5,176.8 L465.7,175.5 L467.9,177.6 L470.1,178.0 L472.3,176.7 L474.5,177.7 L475.9,176.2 L477.4,176.5 L478.8,176.4 L481.0,175.1 L483.2,175.1 L484.7,173.4 L486.1,174.4 L487.6,173.1 L489.1,173.1 L490.5,170.9 L492.0,172.0 L493.5,169.9 L494.9,170.5 L496.4,169.3 L497.9,170.9 L499.4,169.0 L500.9,170.5 L502.3,171.2 L503.0,169.6 L503.8,167.4 L504.5,167.3 L505.2,166.6 L506.7,164.4 L508.1,165.0 L509.6,162.9 L511.4,163.5 L513.2,164.6 L514.3,167.7 L515.4,169.1 L515.8,170.2 L516.3,170.2 L516.7,172.7 L517.2,173.1 L517.6,174.6 L519.0,176.2 L520.5,176.6 L522.2,175.7 L524.0,176.2 L525.7,176.4 L527.1,176.2 L528.6,175.7 L530.0,174.0 L531.5,172.5 L532.9,173.4 L534.4,171.1 L535.9,170.2 L537.3,170.6 L538.8,169.2 L540.3,169.0 L541.7,167.2 L543.2,166.6 L544.7,163.7 L546.1,164.6 L547.6,162.7 L549.0,162.3 L550.5,160.7 L551.9,159.8 L553.8,158.8 L555.6,157.4 L557.8,160.7 L558.1,160.4 L558.4,162.5 L558.6,165.2 L558.9,165.9 L559.2,167.7 L559.8,169.3 L560.3,170.7 L560.9,171.6 L561.4,174.8 L563.2,175.3 L565.1,175.2 L566.3,177.7 L567.5,178.0 L568.8,178.3 L570.0,181.1 L571.5,179.9 L573.0,181.7 L574.5,182.3 L576.0,180.8 L577.5,183.1 L579.0,182.3 L580.5,182.8 L582.0,184.1 L583.5,183.1 L585.0,182.9 L586.5,182.7 L588.0,184.9 L589.4,182.5 L590.9,182.1 L592.3,180.9 L593.8,180.8 L595.2,179.9 L596.7,179.2 L597.7,179.4 L598.6,181.6 L599.6,181.3 L600.7,182.0 L601.8,184.3 L602.3,184.3 L602.7,188.1 L603.2,188.0 L603.6,190.0 L604.0,191.5 L604.3,193.5 L604.7,195.8 L604.9,198.1 L605.1,198.0 L605.4,200.5 L605.6,202.0 L605.8,205.4 L606.0,205.9 L606.4,207.5 L606.8,210.2 L607.2,210.5 L607.6,212.1 L608.0,213.8 L608.2,214.9 L608.5,217.5 L608.8,218.0 L609.0,220.0 L609.2,221.7 L609.5,223.6 L609.8,225.1 L610.0,226.0 L610.2,228.8 L610.5,230.6 L610.8,232.3 L611.0,233.5 L611.3,231.4 L611.7,229.7 L612.0,229.4 L612.3,226.9 L612.7,226.1 L613.0,223.7 L613.4,222.2 L613.8,219.8 L614.1,220.1 L614.5,217.5 L614.9,216.5 L615.2,215.5 L615.6,214.3 L616.0,213.1 L616.5,210.7 L617.0,208.0 L617.5,208.0 L618.0,204.3 L618.5,203.5 L619.0,203.0 L619.5,201.3 L620.0,199.2 L620.5,198.4 L621.0,195.2 L622.0,195.9 L622.2,198.3 L622.5,201.5 L622.8,201.1 L623.0,203.6 L623.1,205.6 L623.2,206.5 L623.3,209.7 L623.4,209.5 L623.5,211.0 L623.6,214.8 L623.7,214.0 L623.8,216.1 L623.9,218.2 L624.0,220.9 L624.1,221.2 L624.3,223.4 L624.5,225.5 L624.6,226.7 L624.8,228.8 L624.9,228.4 L625.0,231.3 L625.2,231.7 L625.4,235.2 L625.5,234.9 L625.7,236.6 L625.8,238.9 L626.0,241.0 L626.2,241.1 L626.3,244.1 L626.5,244.4 L626.7,246.5 L626.8,247.3 L627.0,250.5 L627.2,252.3 L627.3,253.6 L627.5,254.1 L627.7,255.4 L627.9,258.6 L628.0,259.8 L628.2,261.6 L628.4,261.8 L628.6,264.4 L628.7,265.4 L628.9,267.2 L629.1,268.0 L629.3,270.2 L629.5,271.0 L629.8,272.0 L630.0,274.0 L630.2,275.6" stroke="#18a2d8" stroke-width="5.4"/>
<path d="M70.4,67.1 L71.6,66.4 L72.8,62.5 L73.6,62.5 L74.4,59.6 L75.2,59.9 L76.0,56.1 L76.8,56.4 L77.6,54.4 L80.0,53.6 L81.2,52.4 L82.4,49.2 L83.3,50.9 L84.2,53.3 L86.0,51.1 L87.7,50.9 L89.2,49.9 L90.7,50.3 L92.5,51.0 L94.3,51.5 L95.8,49.4 L97.3,50.2 L98.8,50.1 L100.3,50.2 L101.8,51.6 L103.3,52.4 L104.8,50.8 L106.3,50.9 L107.8,49.3 L109.3,48.6 L110.3,50.5 L111.3,51.1 L112.3,51.8 L113.5,54.3 L114.7,56.1 L116.5,55.6 L118.3,57.2 L120.2,54.2 L122.0,53.6 L124.3,54.3 L125.3,57.2 L126.3,57.8 L127.3,59.1 L128.3,59.3 L129.3,61.0 L130.3,63.1 L131.5,62.3 L132.7,63.3 L133.9,64.1 L136.8,64.4 L138.3,64.1 L139.8,62.3 L142.0,61.4 L143.6,62.0 L144.8,62.5 L146.0,65.4 L147.2,65.3 L148.8,65.6 L150.4,66.4 L152.0,68.1 L153.2,68.0 L154.4,70.3 L155.6,70.0 L156.8,71.5 L158.0,71.9 L159.2,74.9 L160.4,76.2 L161.6,77.1 L162.8,77.9 L163.9,79.9 L165.1,80.8 L166.9,81.3 L168.7,80.9 L170.5,81.4 L172.3,81.2 L174.1,81.0 L175.9,83.2 L177.7,83.9 L179.5,82.7 L181.3,84.1 L183.1,84.7 L184.9,86.6 L186.7,85.5 L187.9,86.5 L189.1,89.3 L190.3,89.7 L191.5,91.0 L192.7,93.3 L193.9,94.5 L195.1,95.9 L196.3,96.2 L197.5,97.0 L199.2,98.0 L201.0,99.9 L202.8,101.2 L204.7,101.2 L206.5,102.1 L208.3,103.6 L210.1,104.1 L211.9,104.2 L213.7,103.1 L215.4,103.7 L217.4,103.7 L219.4,103.9 L221.6,104.1 L223.8,102.3 L225.6,104.1 L227.4,103.8 L228.6,104.8 L229.8,106.1 L231.0,106.2 L233.2,106.1 L235.4,107.4 L237.2,105.9 L239.1,107.2 L240.9,107.4 L242.7,107.3 L244.6,107.7 L246.4,108.7 L247.9,108.2 L249.3,106.7 L250.8,105.3 L252.6,105.9 L254.4,107.8 L257.3,108.2 L258.1,108.3 L258.8,111.4 L259.6,112.3 L260.3,113.2 L261.7,115.7 L263.2,115.2 L264.6,116.3 L266.1,117.6 L267.5,119.2 L269.0,119.5 L270.5,120.1 L271.9,121.8 L273.4,121.4 L274.9,123.0 L276.3,122.0 L277.8,124.4 L279.3,123.8 L280.7,125.6 L282.2,126.7 L283.6,127.3 L285.1,128.1 L286.5,129.0 L288.0,128.7 L289.4,127.1 L290.9,126.1 L292.1,125.4 L293.4,123.8 L294.6,121.5 L296.4,122.8 L298.2,123.0 L299.7,121.8 L301.1,122.6 L302.6,122.2 L304.1,120.5 L305.5,120.9 L307.0,120.5 L308.5,118.9 L310.1,117.5 L311.6,116.4 L312.8,117.3 L314.0,118.8 L315.2,121.6 L316.7,120.5 L318.1,123.4 L319.6,123.9 L321.4,125.2 L323.2,124.8 L324.2,127.5 L325.2,127.9 L326.2,130.4 L327.2,132.3 L328.1,133.9 L329.1,135.2 L332.0,135.2 L333.9,133.1 L335.7,132.2 L337.5,134.5 L339.3,133.4 L341.1,135.0 L343.0,135.7 L344.4,135.8 L345.9,133.7 L347.3,133.2 L348.8,132.3 L350.2,131.5 L351.7,130.7 L353.5,129.6 L355.4,128.8 L357.1,127.7 L358.8,127.0 L360.5,127.3 L362.7,127.1 L364.9,125.1 L366.7,125.6 L368.5,122.5 L369.5,121.7 L370.4,121.4 L371.4,118.4 L372.5,121.3 L373.6,123.8 L374.1,124.4 L374.6,125.5 L375.1,126.1 L375.5,128.5 L376.0,130.0 L376.5,132.1 L376.9,133.0 L377.2,135.6 L377.6,136.4 L378.0,138.6 L378.3,140.6 L378.7,141.0 L379.2,144.2 L379.8,144.5 L380.3,146.1 L380.9,148.6 L382.8,148.8 L384.6,149.7 L385.8,148.1 L387.0,147.2 L388.2,147.4 L388.9,145.1 L389.7,143.7 L390.4,142.1 L392.2,141.4 L394.0,139.9 L395.9,140.3 L397.7,138.7 L399.5,138.1 L401.4,139.6 L402.9,139.6 L404.4,137.9 L406.2,138.8 L408.0,137.6 L409.9,135.6 L411.7,135.2 L413.9,136.3 L416.1,135.0 L416.6,137.8 L417.1,138.5 L417.7,139.9 L418.2,143.3 L418.6,144.9 L418.9,145.6 L419.3,147.3 L419.7,147.9 L420.0,149.5 L420.4,151.4 L422.6,153.3 L423.7,151.5 L424.8,149.5 L425.5,148.4 L426.3,146.5 L427.0,146.0 L428.9,146.1 L430.7,145.9 L432.1,143.7 L433.6,142.6 L435.0,142.7 L436.5,140.4 L437.9,140.0 L439.4,137.8 L440.9,136.9 L442.3,136.2 L443.8,136.2 L445.3,135.7 L446.7,137.1 L448.2,136.3 L449.4,136.2 L450.6,134.7 L451.8,132.3 L453.3,131.8 L454.7,131.3 L456.2,131.4 L458.0,129.6 L459.9,128.6 L461.3,129.1 L462.8,128.7 L464.2,126.3 L466.0,126.3 L467.9,125.8 L469.4,125.8 L470.8,124.2 L471.9,125.6 L473.0,127.6 L474.0,128.9 L474.9,129.9 L475.9,131.0 L476.4,132.8 L476.9,132.6 L477.4,135.6 L477.8,135.9 L478.3,137.6 L478.8,139.2 L479.2,140.9 L479.5,142.5 L479.9,144.0 L480.3,144.9 L480.6,146.4 L481.0,148.5 L481.4,150.7 L481.9,151.1 L482.3,151.9 L482.8,155.4 L483.2,157.1 L484.6,158.0 L486.1,158.7 L487.6,157.5 L489.0,156.0 L490.5,157.1 L492.4,155.0 L494.2,153.2 L495.4,152.7 L496.7,149.9 L497.9,149.2 L499.8,148.9 L501.6,148.7 L503.1,146.2 L504.5,144.3 L505.9,146.2 L507.4,148.7 L509.2,147.8 L511.1,148.6 L512.5,150.2 L514.0,152.6 L515.8,152.8 L517.6,153.3 L518.8,150.3 L520.1,150.4 L521.3,148.6 L522.8,148.9 L524.2,148.6 L525.7,147.2 L527.1,146.9 L528.6,146.1 L530.0,145.0 L531.5,144.3 L532.9,143.5 L534.4,144.1 L535.4,143.2 L536.3,141.7 L537.3,140.1 L538.8,138.9 L540.3,137.3 L542.5,136.6 L544.6,135.5 L545.6,138.2 L546.6,138.0 L547.6,140.8 L549.0,141.1 L550.5,140.2 L553.4,142.3 L554.4,143.2 L555.3,144.5 L556.3,144.1 L557.8,145.6 L559.2,146.4 L560.7,147.8 L562.2,145.9 L563.6,145.4 L565.1,145.1 L566.5,143.4 L568.0,144.4 L569.4,144.8 L570.9,144.7 L573.1,145.9 L575.3,145.4 L576.8,144.3 L578.2,143.1 L579.7,141.7 L581.9,141.0 L584.0,143.0 L585.3,144.1 L586.6,143.4 L587.9,145.0 L588.9,146.1 L589.8,147.4 L590.8,149.9 L591.8,150.8 L592.8,151.4 L593.8,153.4 L595.6,154.5 L597.4,154.0 L598.1,156.6 L598.9,158.1 L599.6,159.9 L600.1,162.2 L600.6,163.9 L601.1,164.7 L601.5,165.9 L601.8,168.3 L602.1,169.7 L602.5,173.1 L602.8,173.8 L603.1,176.0 L603.4,178.1 L603.7,179.3 L604.0,182.2 L604.2,183.1 L604.5,184.7 L604.7,185.5 L604.9,187.3 L605.2,190.0 L605.4,191.2 L605.6,193.2 L605.9,195.6 L606.1,196.9 L606.4,199.0 L606.6,199.7 L606.8,200.7 L607.1,202.8 L607.3,205.9 L607.5,206.1 L607.8,207.5 L608.0,209.1 L608.2,212.7 L608.4,212.6 L608.6,213.9 L608.8,216.1 L609.0,217.0 L609.2,220.1 L609.4,221.6 L609.6,222.6 L609.8,224.9 L610.0,224.9 L610.2,228.4 L610.5,229.8 L610.8,231.8 L611.0,232.2 L611.5,232.2 L612.0,230.6 L612.5,227.7 L613.0,225.6 L613.3,224.4 L613.6,223.3 L613.9,221.1 L614.2,219.7 L614.5,219.0 L614.8,216.9 L615.1,214.6 L615.4,214.1 L615.7,212.2 L616.0,208.9 L616.5,208.3 L617.0,206.2 L617.5,204.6 L618.0,203.0 L618.5,202.4 L619.0,200.2 L620.0,197.4 L621.0,195.0 L622.0,196.2 L622.2,198.5 L622.5,200.6 L622.8,202.2 L623.0,203.8 L623.1,205.7 L623.2,206.8 L623.3,209.8 L623.4,209.8 L623.5,211.7 L623.6,213.9 L623.7,215.9 L623.8,216.6 L623.9,218.7 L624.0,219.5 L624.1,220.5 L624.3,224.2 L624.5,223.8 L624.6,227.0 L624.8,227.0 L624.9,229.2 L625.0,231.2 L625.2,233.7 L625.4,235.1 L625.5,235.6 L625.7,236.5 L625.8,239.7 L626.0,241.2 L626.2,243.2 L626.3,243.0 L626.5,245.7 L626.7,247.1 L626.8,249.3 L627.0,250.8 L627.2,252.1 L627.3,253.9 L627.5,253.7 L627.6,257.3 L627.8,258.0 L627.9,260.2 L628.1,260.1 L628.2,262.5 L628.4,264.9 L628.6,266.7 L628.8,267.6 L629.0,269.9 L629.2,269.6 L629.4,271.5 L629.6,273.5 L630.1,276.8 L630.6,278.0" stroke="#1f55ae" stroke-width="2.3"/>
<line x1="66.8" y1="142.5" x2="615" y2="242.6" stroke="#000" stroke-width="2.6"/>
</g>

<!-- axes box -->
<rect x="66.8" y="1.5" width="606" height="442.9" fill="none" stroke="#000" stroke-width="1.8"/>
<!-- y ticks -->
<g stroke="#000" stroke-width="1.3">
<line x1="66.8" y1="41.8" x2="72" y2="41.8"/>
<line x1="66.8" y1="142.5" x2="72" y2="142.5"/>
<line x1="66.8" y1="243.1" x2="72" y2="243.1"/>
<line x1="66.8" y1="343.8" x2="72" y2="343.8"/>
</g>
<!-- x ticks -->
<g stroke="#000" stroke-width="1.3">
<line x1="121.9" y1="444.4" x2="121.9" y2="439"/>
<line x1="177" y1="444.4" x2="177" y2="439"/>
<line x1="232.1" y1="444.4" x2="232.1" y2="439"/>
<line x1="287.2" y1="444.4" x2="287.2" y2="439"/>
<line x1="342.3" y1="444.4" x2="342.3" y2="439"/>
<line x1="397.3" y1="444.4" x2="397.3" y2="439"/>
<line x1="452.4" y1="444.4" x2="452.4" y2="439"/>
<line x1="507.5" y1="444.4" x2="507.5" y2="439"/>
<line x1="562.6" y1="444.4" x2="562.6" y2="439"/>
<line x1="617.7" y1="444.4" x2="617.7" y2="439"/>
</g>
<!-- y labels -->
<g font-size="18" text-anchor="end">
<text x="51.5" y="48">1</text>
<text x="51.5" y="148.5">0.5</text>
<text x="51.5" y="249">0</text>
<text x="51.5" y="350">-0.5</text>
<text x="51.5" y="450.5">-1</text>
</g>
<!-- x labels -->
<g font-size="18" text-anchor="middle">
<text x="66.8" y="471.5">1</text>
<text x="121.9" y="471.5">0.9</text>
<text x="177" y="471.5">0.8</text>
<text x="232.1" y="471.5">0.7</text>
<text x="287.2" y="471.5">0.6</text>
<text x="342.3" y="471.5">0.5</text>
<text x="397.3" y="471.5">0.4</text>
<text x="452.4" y="471.5">0.3</text>
<text x="507.5" y="471.5">0.2</text>
<text x="562.6" y="471.5">0.1</text>
<text x="617.7" y="471.5">0</text>
<text x="670" y="471.5">-0.1</text>
</g>
<!-- axis titles -->
<text x="352.5" y="497" font-size="16.5">x/l<tspan font-size="12" dy="3">res</tspan></text>
<text transform="translate(12.8,232) rotate(-90)" font-size="17">z/h<tspan font-size="12" dy="3">d</tspan></text>

<!-- vertical marker -->
<line x1="309" y1="1.5" x2="309" y2="444.4" stroke="#000" stroke-width="1.5"/>
<line x1="309" y1="48.2" x2="368" y2="48.2" stroke="#000" stroke-width="1.5"/>
<path d="M366,43.6 L376,48.2 L366,52.8 Z" fill="#000"/>
<text x="316" y="31.3" font-size="19.3">Beginn Aufweitung</text>
<text x="82" y="32.3" font-size="19.3">Gleichgewichtsgefälle</text>
<text x="146" y="53" font-size="19.3">= 0,01</text>


<!-- hw arrows -->
<g stroke="#000" stroke-width="1.5">
<line x1="152" y1="72" x2="152" y2="110"/>
<line x1="639.1" y1="202" x2="639.1" y2="238"/>
</g>
<g fill="#000">
<path d="M152,66.6 L156,75.6 L148,75.6 Z"/>
<path d="M152,116.3 L156,106.1 L148,106.1 Z"/>
<path d="M639.1,196 L643.9,205 L634.3,205 Z"/>
<path d="M639.1,243.2 L643.9,234.9 L634.3,234.9 Z"/>
</g>
<text x="153.8" y="96.5" font-size="16.3">hw</text>
<text x="641.2" y="225.3" font-size="16.3">hw</text>

<!-- legend -->
<rect x="74.6" y="280.3" width="400.6" height="136.8" fill="#fff" stroke="#000" stroke-width="1.3"/>
<g stroke-linecap="butt">
<line x1="132.8" y1="291.6" x2="169.8" y2="291.6" stroke="#1ea23c" stroke-width="3.6" stroke-linecap="round"/>
<line x1="131.5" y1="314.6" x2="171" y2="314.6" stroke="#1f8f2e" stroke-width="1.5"/>
<line x1="132.8" y1="337.3" x2="142" y2="337.3" stroke="#dd1010" stroke-width="3.4" stroke-linecap="round"/><line x1="153.5" y1="337.3" x2="162.3" y2="337.3" stroke="#dd1010" stroke-width="3.4" stroke-linecap="round"/>
<line x1="132.8" y1="360.6" x2="169.8" y2="360.6" stroke="#1aa3d3" stroke-width="3.8" stroke-linecap="round"/>
<line x1="131.5" y1="383.6" x2="171" y2="383.6" stroke="#4a66b8" stroke-width="1.2"/>
<line x1="132" y1="406.5" x2="171" y2="406.5" stroke="#000" stroke-width="2.6"/>
</g>
<g font-size="17.2">
<text x="175" y="297.3">Scenario 1, S=6.5‰,</text>
<text x="339.6" y="297.3" textLength="37.6" lengthAdjust="spacingAndGlyphs">W/W</text>
<text x="377.3" y="300.2" font-size="14">0</text>
<text x="388.4" y="297.3">=1</text>
<text x="175" y="320.3">Scenario 2, S=6.5‰,</text>
<text x="339.6" y="320.3" textLength="37.6" lengthAdjust="spacingAndGlyphs">W/W</text>
<text x="377.3" y="323.2" font-size="14">0</text>
<text x="388.4" y="320.3">=4:3</text>
<text x="175" y="343.3">Scenario 3, S=5.0‰,</text>
<text x="339.6" y="343.3" textLength="37.6" lengthAdjust="spacingAndGlyphs">W/W</text>
<text x="377.3" y="346.2" font-size="14">0</text>
<text x="388.4" y="343.3">=1</text>
<text x="175" y="366.3">Scenario 4, S=3.0‰,</text>
<text x="339.6" y="366.3" textLength="37.6" lengthAdjust="spacingAndGlyphs">W/W</text>
<text x="377.3" y="369.2" font-size="14">0</text>
<text x="388.4" y="366.3">=1</text>
<text x="175" y="389.3">Scenario 5, S=3.0‰,</text>
<text x="339.6" y="389.3" textLength="37.6" lengthAdjust="spacingAndGlyphs">W/W</text>
<text x="377.3" y="392.2" font-size="14">0</text>
<text x="388.4" y="389.3">=4:3</text>
<text x="175" y="411.7" textLength="169" lengthAdjust="spacingAndGlyphs">ursprüngliche Sohle</text>
</g>
</svg>
</body></html>
